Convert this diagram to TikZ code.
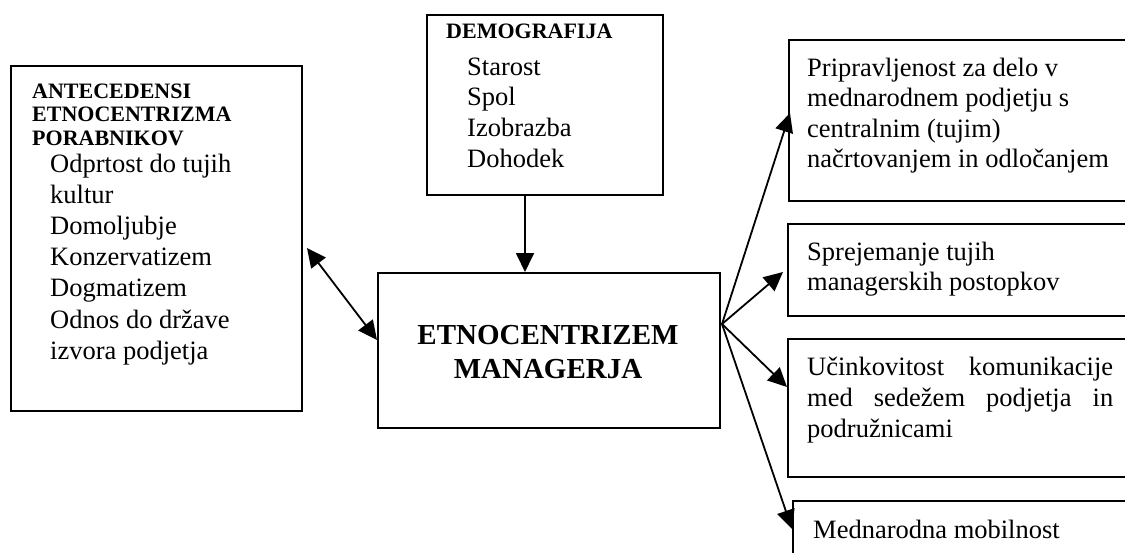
\documentclass[tikz,border=0pt]{standalone}
\usepackage{fontspec}
\setmainfont{Liberation Serif}
\usetikzlibrary{arrows.meta}
\newcommand\txtbody{\fontsize{26.5}{31.2}\selectfont}
\newcommand\txthead{\fontsize{22}{23.5}\selectfont\bfseries}
\newcommand\txtmain{\fontsize{29}{34}\selectfont\bfseries}
\begin{document}
\begin{tikzpicture}[x=1pt,y=-1pt,
  box/.style={draw, line width=2pt, inner sep=0pt, anchor=north west},
  txt/.style={inner sep=0pt, anchor=base west},
  arr/.style={line width=1.8pt, -{Triangle[length=19pt,width=18pt]}},
  darr/.style={line width=1.8pt, {Triangle[length=19pt,width=18pt]}-{Triangle[length=19pt,width=18pt]}}]
\useasboundingbox (0,0) rectangle (1125,552);
\clip (0,0) rectangle (1125,552);
% boxes
\node[box, minimum width=291pt, minimum height=345pt] (ante) at (10,65) {};
\node[box, minimum width=236pt, minimum height=180pt] (demo) at (426,14) {};
\node[box, minimum width=342pt, minimum height=155pt] (main) at (377,272) {};
\node[box, minimum width=400pt, minimum height=161pt] (r1) at (788,39) {};
\node[box, minimum width=400pt, minimum height=92pt] (r2) at (787,223) {};
\node[box, minimum width=400pt, minimum height=138pt] (r3) at (787,338) {};
\node[box, minimum width=400pt, minimum height=100pt] (r4) at (792,500) {};
% texts
\node[txt] (anteh) at (32,98) {\parbox[t]{260pt}{\txthead ANTECEDENSI\\ETNOCENTRIZMA\\PORABNIKOV}};
\node[txt] (anteb) at (50,172) {\parbox[t]{240pt}{\txtbody Odprtost do tujih\\kultur\\Domoljubje\\Konzervatizem\\Dogmatizem\\Odnos do države\\izvora podjetja}};
\node[txt] (demoh) at (446,38) {\txthead DEMOGRAFIJA};
\node[txt] (demob) at (467,75) {\parbox[t]{180pt}{\fontsize{26.5}{30.7}\selectfont Starost\\Spol\\Izobrazba\\Dohodek}};
\node[inner sep=0pt, anchor=base] (maint) at (548,344) {\parbox[t]{330pt}{\centering\txtmain ETNOCENTRIZEM\\MANAGERJA}};
\node[txt] (r1t) at (807,76) {\parbox[t]{330pt}{\fontsize{26.5}{30.5}\selectfont Pripravljenost za delo v\\mednarodnem podjetju s\\centralnim (tujim)\\načrtovanjem in odločanjem}};
\node[txt] (r2t) at (807,260) {\parbox[t]{330pt}{\fontsize{26.5}{30}\selectfont Sprejemanje tujih\\managerskih postopkov}};
\node[txt] (r3t) at (807,375) {\parbox[t]{330pt}{\fontsize{26.5}{31}\selectfont
  \hbox to 306pt{Učinkovitost\hfill komunikacije}
  \hbox to 306pt{med\hfill sedežem\hfill podjetja\hfill in}
  \hbox{podružnicami}}};
\node[txt] (r4t) at (813,538) {\txtbody Mednarodna mobilnost};
% connectors
\draw[arr] ([xshift=-20pt]demo.south) -- ([xshift=-24pt]main.north);
\draw[darr] ([shift={(4pt,-9.5pt)}]ante.east) -- ([yshift=10.5pt]main.west);
\coordinate (o) at ([shift={(1pt,26.5pt)}]main.east);
\draw[arr] (o) -- ([shift={(2pt,7.5pt)}]r1.west);
\draw[arr] (o) -- ([shift={(-4pt,-2pt)}]r2.west);
\draw[arr] (o) -- ([yshift=21pt]r3.west);
\draw[arr] (o) -- ([yshift=22pt]r4.west);
\end{tikzpicture}
\end{document}
